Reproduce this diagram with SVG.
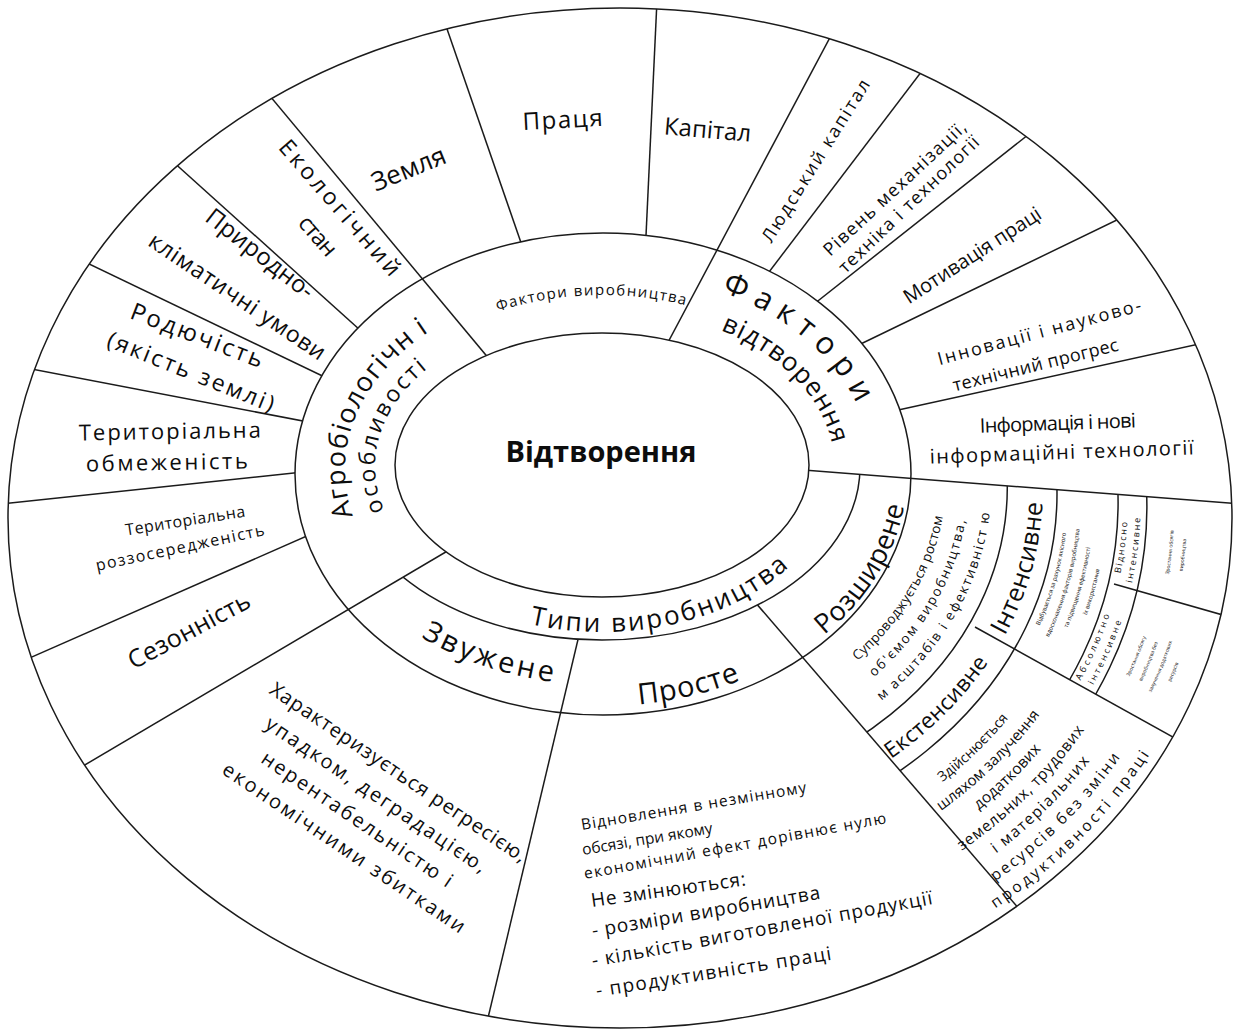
<svg xmlns="http://www.w3.org/2000/svg" width="1240" height="1033" viewBox="0 0 1240 1033">
<defs>
<style>
.ln{stroke:#1b1b1b;stroke-width:1.5;fill:none}
.el{stroke:#1b1b1b;stroke-width:1.5;fill:#fff}
text{font-family:"Open Sans","Noto Sans","DejaVu Sans",sans-serif;fill:#0d0d0d}
.c{text-anchor:middle}
</style>
<clipPath id="cOut"><ellipse cx="620" cy="518" rx="612" ry="510"/></clipPath>
<clipPath id="cRoz"><polygon points="629.8,456.5 1300,508.6 1300,1100 1183.5,1100"/></clipPath>
<clipPath id="cInt"><polygon points="975,483.4 1300,508.6 1300,807.7 975,627"/></clipPath>
<clipPath id="cBot"><polygon points="610.2,455 0,815 0,1100 1300,1100 1300,508.6"/></clipPath>
<path id="pFV" d="M435.03,341.59 A245.38,173.42 0 0 1 750.06,329.92"/>
<path id="pFak" d="M612.03,271.12 A269.62,199.58 0 0 1 866.35,512.07"/>
<path id="pVidt" d="M642.58,310.42 A232.25,159.25 0 0 1 820.49,521.72"/>
<path id="pAgro" d="M391.57,576.47 A257.5,186.5 0 0 1 493.68,300.47"/>
<path id="pOsob" d="M428.16,565.66 A227.2,153.8 0 0 1 488.6,333.61"/>
<path id="pTypy" d="M424.64,575.25 A235,165 0 0 0 836.96,464.12"/>
<path id="pZv" d="M314.64,474.93 A288,213.8 0 0 0 750.93,654.46"/>
<path id="pPr" d="M408.76,651.53 A302,232.84 0 0 0 900.29,513.59"/>
<path id="pRoz" d="M645.23,706.71 A304,235.56 0 0 0 842.48,328.41"/>
<path id="pS1" d="M664.16,745.32 A341.44,270.59 0 0 0 881.10,319.79"/>
<path id="pS2" d="M669.05,766.94 A362.72,289.42 0 0 0 899.51,311.80"/>
<path id="pS3" d="M673.93,788.56 A384,308.25 0 0 0 917.91,303.81"/>
<path id="pInt" d="M816.41,800.76 A432.64,351.29 0 0 0 948.56,273.36"/>
<path id="pExt" d="M640.15,842.47 A432.64,351.29 0 0 0 1029.76,407.05"/>
<path id="pE1" d="M674.94,886.93 A478.24,391.64 0 0 0 1086.67,447.52"/>
<path id="pE2" d="M678.80,908.05 A498.91,409.93 0 0 0 1108.32,448.12"/>
<path id="pE3" d="M682.65,929.17 A519.58,428.22 0 0 0 1129.96,448.72"/>
<path id="pE4" d="M686.51,950.32 A540.26,446.52 0 0 0 1151.62,449.34"/>
<path id="pE5" d="M690.36,971.44 A560.93,464.81 0 0 0 1173.27,449.94"/>
<path id="pE6" d="M694.22,992.57 A581.6,483.1 0 0 0 1194.92,450.54"/>
<path id="pE7" d="M698.07,1013.69 A602.27,501.39 0 0 0 1216.58,451.14"/>
<path id="pI1" d="M892.66,789.34 A456.96,372.81 0 0 0 1014.80,320.54"/>
<path id="pI2" d="M900.83,799.57 A469.12,383.57 0 0 0 1026.22,317.25"/>
<path id="pI3" d="M908.99,809.82 A481.28,394.33 0 0 0 1037.64,313.95"/>
<path id="pI4" d="M917.16,820.05 A493.44,405.09 0 0 0 1049.05,310.66"/>
<path id="pV1" d="M974.19,805.11 A513.2,422.58 0 0 0 1037.42,264.34"/>
<path id="pV2" d="M983.39,814.54 A525.36,433.34 0 0 0 1048.12,260.01"/>
<path id="pA1" d="M882.63,864.01 A513.2,422.58 0 0 0 1091.97,348.82"/>
<path id="pA2" d="M889.66,874.94 A525.36,433.34 0 0 0 1103.97,346.64"/>
<path id="pU1" d="M1073.44,774.83 A557.28,461.58 0 0 0 1122.01,315.01"/>
<path id="pU2" d="M1084.07,782.77 A569.44,472.34 0 0 0 1133.71,312.22"/>
<path id="pL1" d="M985.43,848.22 A551.2,456.2 0 0 0 1155.76,414.35"/>
<path id="pL2" d="M994.24,857.98 A563.36,466.96 0 0 0 1168.34,413.87"/>
<path id="pL3" d="M1003.06,867.73 A575.52,477.72 0 0 0 1180.91,413.40"/>
<path id="pL4" d="M1011.88,877.49 A587.68,488.48 0 0 0 1193.48,412.92"/>
</defs>
<rect width="1240" height="1033" fill="#fff"/>
<g id="connectors">
<ellipse class="el" cx="620" cy="518" rx="612" ry="510"/>
<g clip-path="url(#cRoz)">
<ellipse class="ln" cx="608.1" cy="487.2" rx="399.2" ry="321.7"/>
<ellipse class="ln" cx="610.7" cy="494" rx="446.3" ry="363.4"/>
</g>
<g clip-path="url(#cInt)">
<ellipse class="ln" cx="614" cy="502.4" rx="504.1" ry="414.5"/>
<ellipse class="ln" cx="615.5" cy="506.3" rx="531.4" ry="438.7"/>
</g>
<g clip-path="url(#cOut)" class="ln">
<line x1="545" y1="312" x2="437" y2="0"/>
<line x1="643" y1="300" x2="657" y2="0"/>
<line x1="400" y1="366" x2="150" y2="141"/>
<line x1="360" y1="394" x2="60" y2="250"/>
<line x1="0" y1="363" x2="350" y2="430"/>
<line x1="0" y1="504" x2="350" y2="467"/>
<line x1="0" y1="671" x2="350" y2="517"/>
<line x1="750" y1="297" x2="960" y2="21"/>
<line x1="790" y1="323" x2="1100" y2="78"/>
<line x1="840" y1="354" x2="1150" y2="204"/>
<line x1="880" y1="414" x2="1240" y2="335"/>
<line x1="975" y1="627" x2="1300" y2="807.7"/>
<line x1="1114" y1="584" x2="1300" y2="637"/>
</g>
<ellipse class="el" cx="603" cy="474" rx="308" ry="241"/>
<g clip-path="url(#cOut)" class="ln">
<line x1="590" y1="589" x2="478" y2="1060"/>
<line x1="730" y1="573" x2="1100" y2="1003"/>
</g>
<g clip-path="url(#cBot)">
<ellipse class="el" cx="602" cy="467" rx="258" ry="173"/>
</g>
<g clip-path="url(#cOut)" class="ln">
<line x1="560" y1="444" x2="200" y2="12"/>
<line x1="640" y1="395" x2="860" y2="-19"/>
<line x1="500" y1="520" x2="0" y2="815"/>
<line x1="700" y1="462" x2="1300" y2="508.6"/>
</g>
<ellipse class="el" cx="602" cy="465" rx="207" ry="132"/>
</g>
<g id="center"><text class="c" x="601" y="462" font-size="29" font-weight="bold">Відтворення</text></g>
<g id="factors-production">
<text font-size="15"><textPath href="#pFV" startOffset="50%" text-anchor="middle" textLength="190">Фактори виробництва</textPath></text>
<text class="c" font-size="24" textLength="80" transform="translate(563,128) rotate(-3)">Праця</text>
<text class="c" font-size="24" transform="translate(707,138) rotate(5)">Капітал</text>
<text class="c" font-size="26" transform="translate(412,177) rotate(-22)">Земля</text>
</g>
<g id="factors-reproduction">
<text font-size="31"><textPath href="#pFak" startOffset="50%" text-anchor="middle" textLength="180">Фактори</textPath></text>
<text font-size="26"><textPath href="#pVidt" startOffset="50%" text-anchor="middle" textLength="165">відтворення</textPath></text>
<text class="c" font-size="18" textLength="188" transform="translate(821,164) rotate(-58)">Людський капітал</text>
<text class="c" font-size="18" textLength="188" transform="translate(899,193) rotate(-43)">Рівень механізації,</text>
<text class="c" font-size="18" textLength="188" transform="translate(913,209) rotate(-44)">техніка і технології</text>
<text class="c" font-size="20" textLength="160" transform="translate(976,261) rotate(-33)">Мотивація праці</text>
<text class="c" font-size="18" textLength="210" transform="translate(1041,338) rotate(-15)">Інновації і науково-</text>
<text class="c" font-size="18" textLength="170" transform="translate(1037,371) rotate(-14)">технічний прогрес</text>
<text class="c" font-size="20" textLength="156" transform="translate(1058,430) rotate(-2)">Інформація і нові</text>
<text class="c" font-size="20" textLength="264" transform="translate(1062,459) rotate(-2)">інформаційні технології</text>
</g>
<g id="agrobiological">
<text font-size="27"><textPath href="#pAgro" startOffset="50%" text-anchor="middle" textLength="215">Агробіологічн і</textPath></text>
<text font-size="23"><textPath href="#pOsob" startOffset="50%" text-anchor="middle" textLength="160">особливості</textPath></text>
<text class="c" font-size="23" textLength="172" transform="translate(334,213) rotate(49)">Екологічний</text>
<text class="c" font-size="23" textLength="46" transform="translate(312,241) rotate(49)">стан</text>
<text class="c" font-size="24" textLength="130" transform="translate(255,260) rotate(38)">Природно-</text>
<text class="c" font-size="23" textLength="208" transform="translate(233,303) rotate(34)">кліматичні умови</text>
<text class="c" font-size="24" textLength="140" transform="translate(194,343) rotate(21)">Родючість</text>
<text class="c" font-size="23" textLength="178" transform="translate(188,379) rotate(22)">(якість землі)</text>
<text class="c" font-size="22" textLength="182" transform="translate(170,439) rotate(-1)">Територіальна</text>
<text class="c" font-size="22" textLength="162" transform="translate(167,470) rotate(-1)">обмеженість</text>
<text class="c" font-size="16" textLength="121" transform="translate(186,526) rotate(-9)">Територіальна</text>
<text class="c" font-size="16" textLength="172" transform="translate(181,553) rotate(-12)">роззосередженість</text>
<text class="c" font-size="25" textLength="135" transform="translate(193,638) rotate(-28)">Сезонність</text>
</g>
<g id="production-types">
<text font-size="26"><textPath href="#pTypy" startOffset="50%" text-anchor="middle" textLength="275">Типи виробництва</textPath></text>
</g>
<g id="narrowed">
<text font-size="29"><textPath href="#pZv" startOffset="50%" text-anchor="middle" textLength="140">Звужене</textPath></text>
<g transform="translate(398,773) rotate(34)" font-size="20">
<text class="c" x="0" y="6" textLength="305">Характеризується регресією,</text>
<text class="c" x="-6" y="37" textLength="262">упадком, деградацією,</text>
<text class="c" x="-8" y="68" textLength="226">нерентабельністю і</text>
<text class="c" x="-3" y="99" textLength="288">економічними збитками</text>
</g>
</g>
<g id="simple">
<text font-size="29"><textPath href="#pPr" startOffset="50%" text-anchor="middle" textLength="105">Просте</textPath></text>
<text font-size="15.5" textLength="228" transform="translate(582,830) rotate(-9.5)">Відновлення в незмінному</text>
<text font-size="15.5" transform="translate(583,855) rotate(-9.5)">обсязі, при якому</text>
<text font-size="15.5" textLength="307" transform="translate(585,879) rotate(-10.5)">економічний ефект дорівнює нулю</text>
<text font-size="19" textLength="156" transform="translate(592,907) rotate(-8)">Не змінюються:</text>
<text font-size="19" textLength="231" transform="translate(593,937) rotate(-9.5)">- розміри виробництва</text>
<text font-size="19" textLength="346" transform="translate(593,967) rotate(-10.5)">- кількість виготовленої продукції</text>
<text font-size="19" textLength="238" transform="translate(597,997) rotate(-9)">- продуктивність праці</text>
</g>
<g id="extended">
<text font-size="27"><textPath href="#pRoz" startOffset="50%" text-anchor="middle" textLength="155">Розширене</textPath></text>
<text font-size="13.5"><textPath href="#pS1" startOffset="50%" text-anchor="middle" textLength="171">Супроводжується ростом</textPath></text>
<text font-size="13.5"><textPath href="#pS2" startOffset="50%" text-anchor="middle" textLength="185">об'ємом виробництва,</textPath></text>
<text font-size="13.5"><textPath href="#pS3" startOffset="50%" text-anchor="middle" textLength="222">м асштабів і ефективніст ю</textPath></text>
</g>
<g id="extensive">
<text font-size="22"><textPath href="#pExt" startOffset="50%" text-anchor="middle" textLength="138">Екстенсивне</textPath></text>
<text font-size="14"><textPath href="#pE1" startOffset="50%" text-anchor="middle">Здійснюється</textPath></text>
<text font-size="15"><textPath href="#pE2" startOffset="50%" text-anchor="middle">шляхом залучення</textPath></text>
<text font-size="15.5"><textPath href="#pE3" startOffset="50%" text-anchor="middle">додаткових</textPath></text>
<text font-size="15.5"><textPath href="#pE4" startOffset="50%" text-anchor="middle" textLength="173">земельних, трудових</textPath></text>
<text font-size="15.5"><textPath href="#pE5" startOffset="50%" text-anchor="middle" textLength="132">і матеріальних</textPath></text>
<text font-size="15.5"><textPath href="#pE6" startOffset="50%" text-anchor="middle" textLength="177">ресурсів без зміни</textPath></text>
<text font-size="15.5"><textPath href="#pE7" startOffset="50%" text-anchor="middle" textLength="219">продуктивності праці</textPath></text>
</g>
<g id="intensive">
<text font-size="25"><textPath href="#pInt" startOffset="50%" text-anchor="middle" textLength="140">Інтенсивне</textPath></text>
<text font-size="6"><textPath href="#pI1" startOffset="50%" text-anchor="middle">Відбувається за рахунок якісного</textPath></text>
<text font-size="6"><textPath href="#pI2" startOffset="50%" text-anchor="middle">вдосконалення факторів виробництва</textPath></text>
<text font-size="6"><textPath href="#pI3" startOffset="50%" text-anchor="middle">та підвищення ефективності</textPath></text>
<text font-size="6"><textPath href="#pI4" startOffset="50%" text-anchor="middle">їх використання</textPath></text>
</g>
<g id="relatively-intensive">
<text font-size="9"><textPath href="#pV1" startOffset="50%" text-anchor="middle" textLength="52">Відносно</textPath></text>
<text font-size="9"><textPath href="#pV2" startOffset="50%" text-anchor="middle" textLength="66">інтенсивне</textPath></text>
<text font-size="5"><textPath href="#pU1" startOffset="50%" text-anchor="middle">Зростання обсягів</textPath></text>
<text font-size="5"><textPath href="#pU2" startOffset="50%" text-anchor="middle">виробництва</textPath></text>
</g>
<g id="absolutely-intensive">
<text font-size="9"><textPath href="#pA1" startOffset="50%" text-anchor="middle" textLength="72">Абсолютно</textPath></text>
<text font-size="9"><textPath href="#pA2" startOffset="50%" text-anchor="middle" textLength="70">інтенсивне</textPath></text>
<text font-size="5"><textPath href="#pL1" startOffset="50%" text-anchor="middle">Зростання обсягу</textPath></text>
<text font-size="5"><textPath href="#pL2" startOffset="50%" text-anchor="middle">виробництва без</textPath></text>
<text font-size="5"><textPath href="#pL3" startOffset="50%" text-anchor="middle">залучення додаткових</textPath></text>
<text font-size="5"><textPath href="#pL4" startOffset="50%" text-anchor="middle">ресурсів</textPath></text>
</g>
</svg>
